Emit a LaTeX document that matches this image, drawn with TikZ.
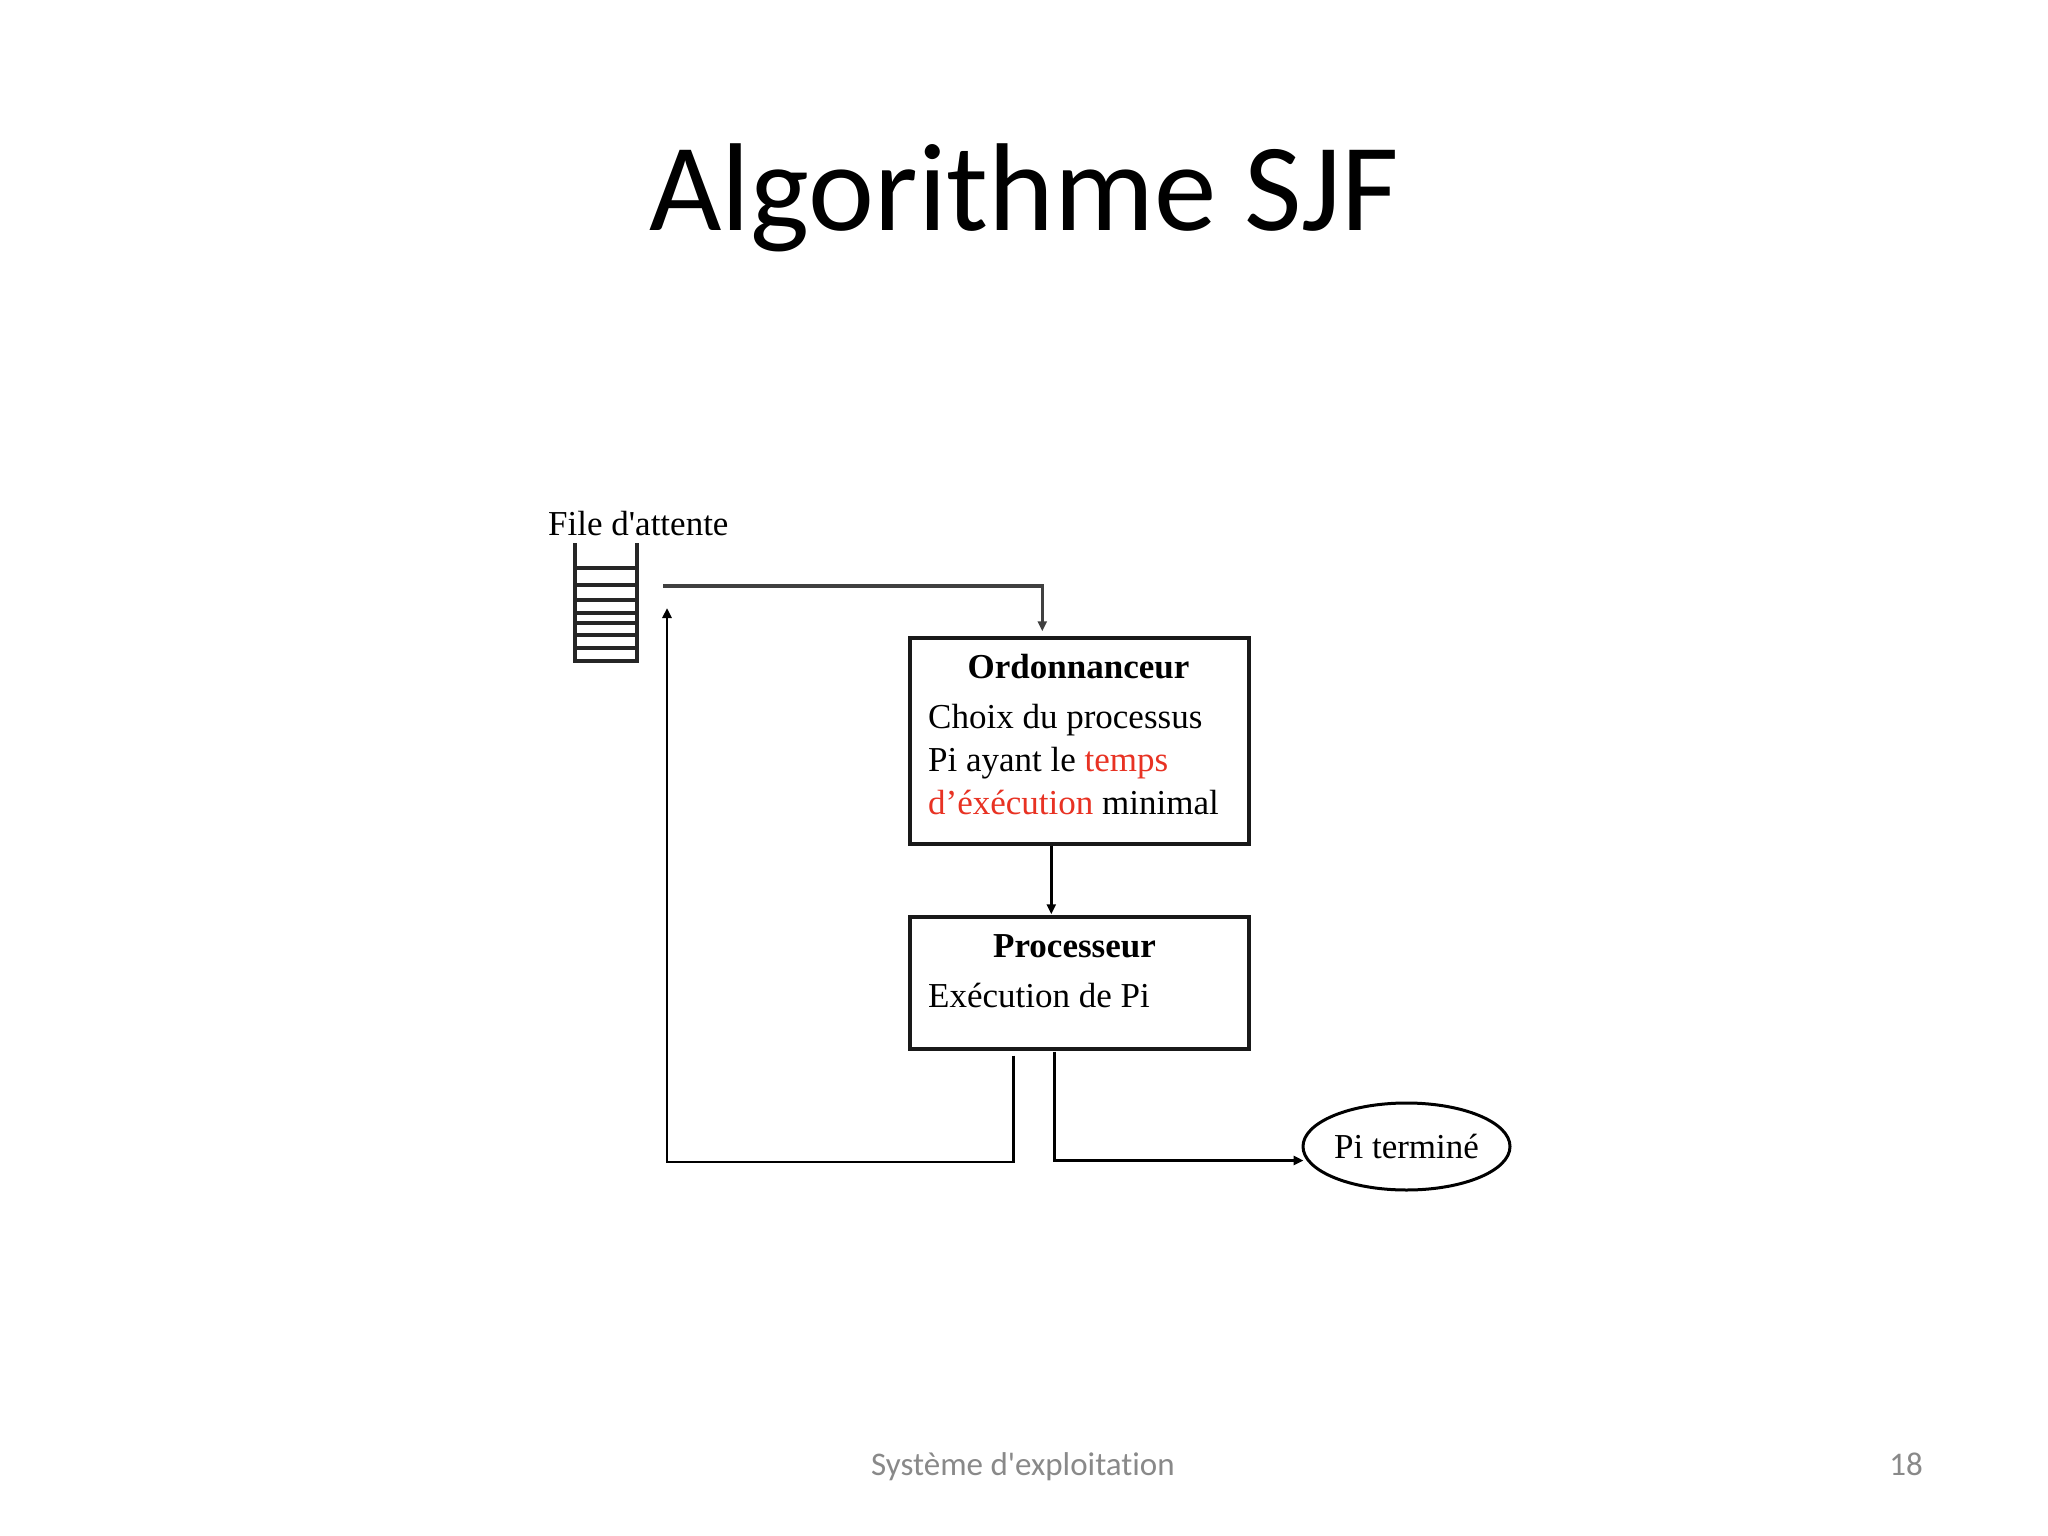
\documentclass[tikz,border=0pt]{standalone}
\usepackage{fontspec}
\setmainfont{Liberation Serif}[Ligatures=TeXOff]
\newfontfamily\calib{Carlito}[Ligatures={TeXOff,NoCommon}]
\usetikzlibrary{arrows.meta,shapes.geometric,calc}
\definecolor{sjfred}{RGB}{232,50,35}
\definecolor{footgray}{RGB}{137,137,137}
\begin{document}
\begin{tikzpicture}[x=1pt,y=-1pt,
  boxshape/.style={draw=black!90,line width=3.4pt,minimum width=339pt,inner sep=0pt},
  bodytxt/.style={font=\fontsize{35}{42}\selectfont,inner sep=0pt,anchor=base west},
  headtxt/.style={font=\bfseries\fontsize{35}{42}\selectfont,inner sep=0pt,anchor=base},
  conn/.style={line width=2.8pt,draw=black},
  arr/.style={conn,-{Triangle[length=10pt,width=9pt]}},
  queueline/.style={line width=3.2pt,draw=black!85}
]
\fill[white] (0,0) rectangle (2048,1536);
\useasboundingbox (0,0) rectangle (2048,1536);

% title
\node[font=\calib\fontsize{125}{140}\selectfont,anchor=base,inner sep=0pt] (title) at (1024,230) {Algorithme SJF};

% queue
\node[font=\fontsize{35}{42}\selectfont,inner sep=0pt,anchor=base west] (qlabel) at (548,535) {File d'attente};
\draw[queueline] (575,543) -- (575,661) -- (637,661) -- (637,543);
\foreach \yy in {568,585,600,613,623,635,648}
  \draw[queueline] (575,\yy) -- (637,\yy);
\coordinate (qout) at (663,586);
\coordinate (qin) at (667,608);

% boxes
\node[boxshape,minimum height=206pt] (ord) at (1079.5,741) {};
\node[boxshape,minimum height=132pt] (proc) at (1079.5,983) {};
\node[draw=black,line width=3pt,ellipse,minimum width=207pt,minimum height=87pt,inner sep=0pt,
      font=\fontsize{35}{42}\selectfont] (term) at (1406.5,1146.5) {Pi terminé};

% box texts
\node[headtxt] (ordh) at (1078.5,678) {Ordonnanceur};
\node[bodytxt] (ord1) at (928,728) {Choix du processus};
\node[bodytxt] (ord2) at (928,771) {Pi ayant le \textcolor{sjfred}{temps}};
\node[bodytxt] (ord3) at (928,814) {\textcolor{sjfred}{d’éxécution} minimal};
\node[headtxt] (proch) at (1074.5,957) {Processeur};
\node[bodytxt] (proc1) at (928,1007) {Exécution de Pi};

% connectors
\draw[arr,draw=black!75,line width=3.4pt,shorten >=5pt] (qout) -| ($(ord.north west)+(134,0)$);
\draw[arr,shorten >=1pt] ($(ord.south west)+(143,0)$) -- ($(proc.north west)+(143,0)$);
\coordinate (retcorner) at (667,1162);
\draw[arr] ($(proc.south west)+(105,5)$) |- (retcorner) -- (qin);
\draw[arr] ($(proc.south west)+(146,1)$) |- ($(term.west)+(2,14)$);

% footer
\node[font=\calib\fontsize{33}{38}\selectfont,text=footgray,anchor=base,inner sep=0pt] (foot) at (1023,1475) {Système d'exploitation};
\node[font=\calib\fontsize{33}{38}\selectfont,text=footgray,anchor=base east,inner sep=0pt] (pnum) at (1923,1475) {18};
\end{tikzpicture}
\end{document}
